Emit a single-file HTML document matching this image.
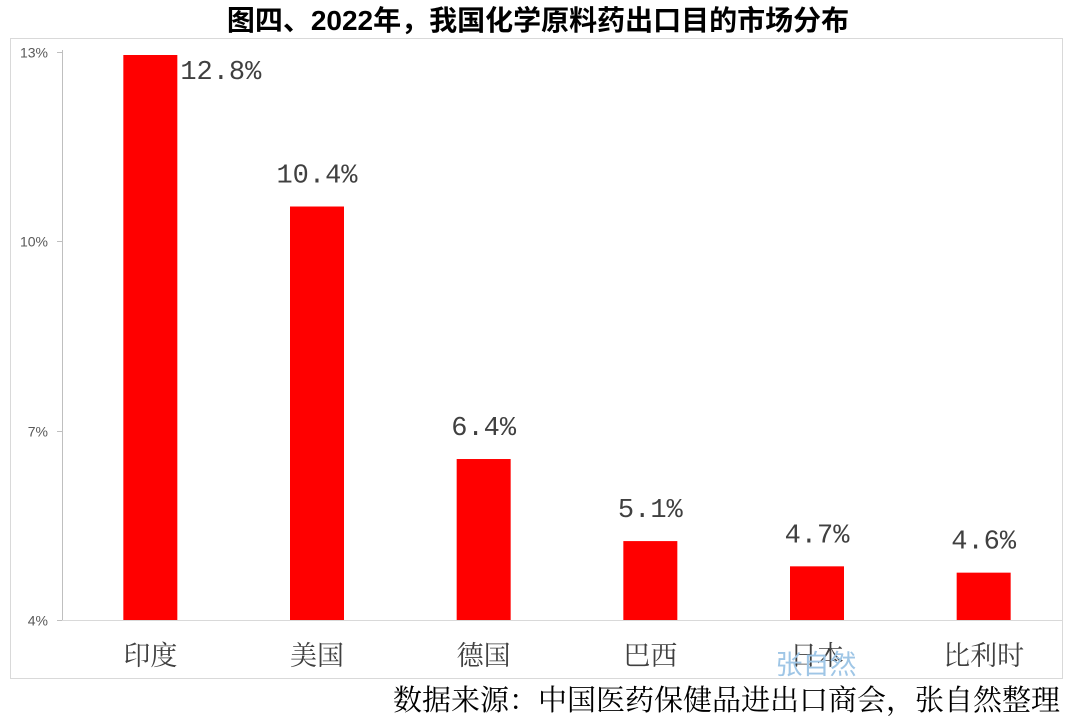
<!DOCTYPE html>
<html><head><meta charset="utf-8">
<style>
body{margin:0;background:#fff;width:1077px;height:720px;overflow:hidden;font-family:"Liberation Sans","Noto Sans CJK SC",sans-serif;}
svg{display:block}
</style></head>
<body>
<svg width="1077" height="720" id="chart">
<text x="538" y="30" text-anchor="middle" font-size="28" font-weight="bold" fill="#000" font-family="Liberation Sans, Noto Sans CJK SC, sans-serif">图四、2022年，我国化学原料药出口目的市场分布</text>
<rect x="10.5" y="38.5" width="1052" height="640" fill="none" stroke="#d9d9d9" stroke-width="1"/>
<line x1="62.5" y1="50" x2="62.5" y2="620" stroke="#bfbfbf"/>
<line x1="62" y1="620.5" x2="1062" y2="620.5" stroke="#d9d9d9"/>
<g id="bars"></g>
<text x="816" y="674" font-size="27" fill="#9fc6e6" font-family="Liberation Sans, Noto Sans CJK SC, sans-serif" text-anchor="middle">张自然</text>
<text x="1060" y="710" font-size="29" fill="#000" text-anchor="end" font-family="Liberation Serif, Noto Serif CJK SC, serif">数据来源：中国医药保健品进出口商会，张自然整理</text>
</svg>
<script>
const categories=["印度","美国","德国","巴西","日本","比利时"];
const values=[12.8,10.4,6.4,5.1,4.7,4.6];
const valueLabels=["12.8%","10.4%","6.4%","5.1%","4.7%","4.6%"];
const tickValues=[3.85,6.85,9.85,12.85];
const tickLabels=["4%","7%","10%","13%"];
const yMin=3.85,yMax=12.8;
const plotTop=55,plotBottom=620,plotLeft=67,plotRight=1067;
const ns="http://www.w3.org/2000/svg";
const svg=document.getElementById('chart');
const g=document.getElementById('bars');
function y(v){return plotBottom-(v-yMin)/(yMax-yMin)*(plotBottom-plotTop);}
const band=(plotRight-plotLeft)/categories.length;
function xc(i){return plotLeft+band*(i+0.5);}
function mk(tag,attrs,txt){const e=document.createElementNS(ns,tag);for(const k in attrs)e.setAttribute(k,attrs[k]);if(txt!==undefined)e.textContent=txt;return e;}
tickValues.forEach((t,i)=>{
  const yy=Math.round(y(t))+0.5;
  const tk=mk('line',{x1:57,y1:yy,x2:62,y2:yy,stroke:'#bfbfbf'});
  
  
  svg.appendChild(tk);
  const lb=mk('text',{x:48,y:yy+5,'font-size':14,'text-anchor':'end',fill:'#595959'},tickLabels[i]);
  
  
  svg.appendChild(lb);
});
categories.forEach((c,i)=>{
  const cx=xc(i), w=54, top=y(values[i]);
  const r=mk('rect',{x:cx-w/2,y:top,width:w,height:plotBottom-top,fill:'#ff0000'});
  
  
  g.appendChild(r);
  let lx=cx, ly=top-24, anchor='middle';
  if(i===0){lx=cx+30;ly=top+24;anchor='start';}
  const vl=mk('text',{x:lx,y:ly,'font-size':27,'text-anchor':anchor,fill:'#404040','font-family':'Liberation Mono, monospace'},valueLabels[i]);
  
  
  g.appendChild(vl);
  const cl=mk('text',{x:cx,y:665,'font-size':27,'text-anchor':'middle',fill:'#404040','font-family':'Liberation Serif, Noto Serif CJK SC, serif'},c);
  
  
  g.appendChild(cl);
});
</script>
</body></html>
